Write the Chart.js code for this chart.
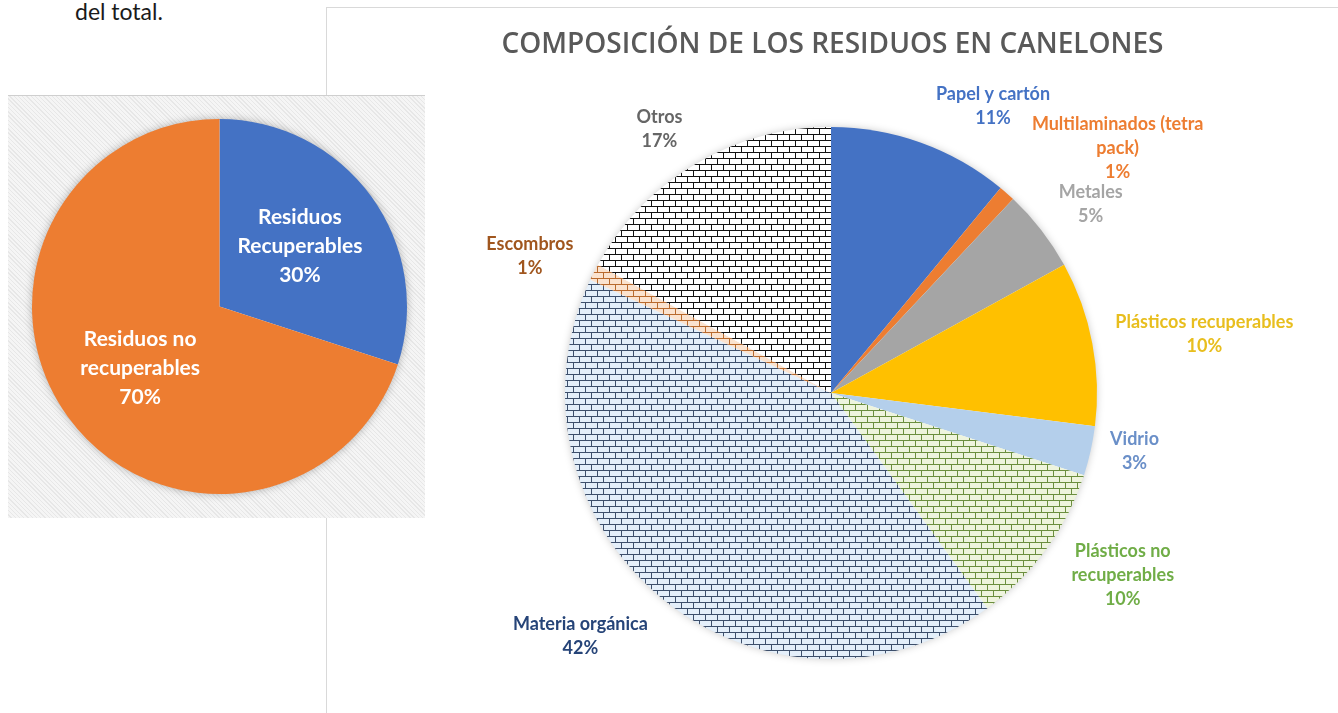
<!DOCTYPE html>
<html>
<head>
<meta charset="utf-8">
<script src="https://cdn.jsdelivr.net/npm/chart.js@4.4.0/dist/chart.umd.min.js"></script>
<style>
  body { margin: 0; width: 1338px; height: 713px; background: #fff; position: relative; overflow: hidden; font-family: Lato, sans-serif; }
  #intro { position: absolute; left: 75px; top: -3px; font-size: 23px; line-height: 28px; color: #1a1a1a; }
  #frame { position: absolute; left: 326px; top: 7px; width: 1012px; height: 706px; border-left: 1px solid #d9d9d9; border-top: 1px solid #d9d9d9; box-sizing: border-box; }
  #panel { position: absolute; left: 8px; top: 95px; width: 417px; height: 423px; border-top: 1px solid #cfcfcf; box-sizing: border-box;
           background: repeating-linear-gradient(45deg, #f5f5f5 0 2px, #e7e7e7 2px 3px); }
  #smallWrap { position: absolute; left: 8px; top: 95px; width: 417px; height: 423px; }
  #bigWrap { position: absolute; left: 327px; top: 8px; width: 1011px; height: 705px; }
</style>
</head>
<body>
<div id="intro">del total.</div>
<div id="frame"></div>
<div id="panel"></div>
<div id="smallWrap"><canvas id="smallChart"></canvas></div>
<div id="bigWrap"><canvas id="bigChart"></canvas></div>
<script>
// datos: grafico chico
var totalLabels = [['Residuos', 'Recuperables'], ['Residuos no', 'recuperables']];
var totalValues = [30, 70];

// datos: composicion de los residuos
var titulo = 'COMPOSICIÓN DE LOS RESIDUOS EN CANELONES';
var categorias = ['Papel y cartón', ['Multilaminados (tetra', 'pack)'], 'Metales', 'Plásticos recuperables',
  'Vidrio', ['Plásticos no', 'recuperables'], 'Materia orgánica', 'Escombros', 'Otros'];
var porcentajes = [11, 1, 5, 10, 3, 10, 42, 1, 17];

// ladrillos como en Excel
function brick(bg, line) {
  var c = document.createElement('canvas');
  c.width = 12; c.height = 12;
  var g = c.getContext('2d');
  g.fillStyle = bg; g.fillRect(0, 0, 12, 12);
  g.fillStyle = line;
  g.fillRect(0, 0, 12, 1); g.fillRect(0, 6, 12, 1);
  g.fillRect(0, 0, 1, 6); g.fillRect(6, 6, 1, 6);
  return g.createPattern(c, 'repeat');
}

var pieShadow = {
  id: 'pieShadow',
  beforeDatasetsDraw: function(chart, args, opts) {
    var arc = chart.getDatasetMeta(0).data[0];
    if (!arc) return;
    var ctx = chart.ctx;
    ctx.save();
    ctx.shadowColor = opts.color;
    ctx.shadowBlur = opts.blur;
    ctx.fillStyle = '#fff';
    ctx.beginPath();
    ctx.arc(arc.x, arc.y, arc.outerRadius - 1, 0, Math.PI * 2);
    ctx.fill();
    ctx.restore();
  }
};

// titulo dibujado a mano (fuente explicita)
var chartTitle = {
  id: 'chartTitle',
  afterDraw: function(chart, args, opts) {
    if (!opts.text) return;
    var ctx = chart.ctx;
    ctx.save();
    ctx.font = opts.font;
    ctx.fillStyle = opts.color;
    ctx.textAlign = 'center';
    ctx.textBaseline = 'middle';
    ctx.fillText(opts.text, chart.width / 2, opts.y);
    ctx.restore();
  }
};

var sliceLabels = {
  id: 'sliceLabels',
  afterDatasetsDraw: function(chart, args, opts) {
    var ctx = chart.ctx;
    var values = chart.data.datasets[0].data;
    ctx.save();
    ctx.font = opts.font;
    ctx.textAlign = 'center';
    ctx.textBaseline = 'middle';
    chart.getDatasetMeta(0).data.forEach(function(arc, i) {
      var s = opts.shift[i] || [0, 0];
      var mid = (arc.startAngle + arc.endAngle) / 2 + s[0] * Math.PI / 180;
      var d = arc.outerRadius * opts.radius + s[1];
      var cx = arc.x + Math.cos(mid) * d;
      var cy = arc.y + Math.sin(mid) * d;
      var lines = [].concat(chart.data.labels[i], values[i] + '%');
      ctx.fillStyle = Array.isArray(opts.colors) ? opts.colors[i] : opts.colors;
      lines.forEach(function(t, k) {
        ctx.fillText(t, cx, cy + (k - (lines.length - 1) / 2) * opts.lineHeight);
      });
    });
    ctx.restore();
  }
};

function drawCharts() {
  new Chart(document.getElementById('smallChart'), {
    type: 'pie',
    data: {
      labels: totalLabels,
      datasets: [{
        data: totalValues,
        backgroundColor: ['#4472C4', '#ED7D31'],
        borderWidth: 0, hoverBorderWidth: 0, hoverOffset: 0
      }]
    },
    plugins: [pieShadow, sliceLabels],
    options: {
      responsive: true,
      maintainAspectRatio: false,
      animation: false,
      layout: { padding: { left: 24, top: 24, right: 18, bottom: 24 } },
      plugins: {
        legend: { display: false },
        tooltip: { enabled: false },
        pieShadow: { color: 'rgba(0,0,0,0.35)', blur: 10 },
        sliceLabels: { font: 'bold 21px Lato', lineHeight: 29, radius: 0.537, colors: '#ffffff', shift: [[-1, 0], [-2, 0]] }
      }
    }
  });

  new Chart(document.getElementById('bigChart'), {
    type: 'pie',
    data: {
      labels: categorias,
      datasets: [{
        data: porcentajes,
        backgroundColor: ['#4472C4', '#ED7D31', '#A5A5A5', '#FFC000', '#B4CFEB',
          brick('#EEF4DD', '#6B8E3E'), brick('#E4EFFA', '#3D4F6B'), brick('#FBE3CF', '#B86A2E'), brick('#FFFFFF', '#111111')],
        borderWidth: 0, hoverBorderWidth: 0, hoverOffset: 0
      }]
    },
    plugins: [pieShadow, sliceLabels, chartTitle],
    options: {
      responsive: true,
      maintainAspectRatio: false,
      animation: false,
      layout: { padding: { left: 238, top: 119, right: 241, bottom: 54 } },
      plugins: {
        legend: { display: false },
        tooltip: { enabled: false },
        chartTitle: { text: titulo, font: '600 28px "Open Sans"', color: '#595959', y: 37 },
        pieShadow: { color: 'rgba(0,0,0,0.25)', blur: 8 },
        sliceLabels: {
          font: 'bold 18px Lato', lineHeight: 24, radius: 1,
          colors: ['#4472C4', '#ED7D31', '#A5A5A5', '#E8BE1E', '#6A8FC8', '#70AD47', '#264478', '#A0561E', '#666666'],
          shift: [[9.7, 63], [8.1, 111], [1.8, 55], [1.8, 112], [-1.8, 43], [-4, 78], [6.3, 83], [-2.5, 65], [-2.4, 49]]
        }
      }
    }
  });
}

Promise.all([
  document.fonts.load('600 28px "Open Sans"'),
  document.fonts.load('bold 18px Lato'),
  document.fonts.load('23px Lato')
]).then(drawCharts, drawCharts);
</script>
</body>
</html>
